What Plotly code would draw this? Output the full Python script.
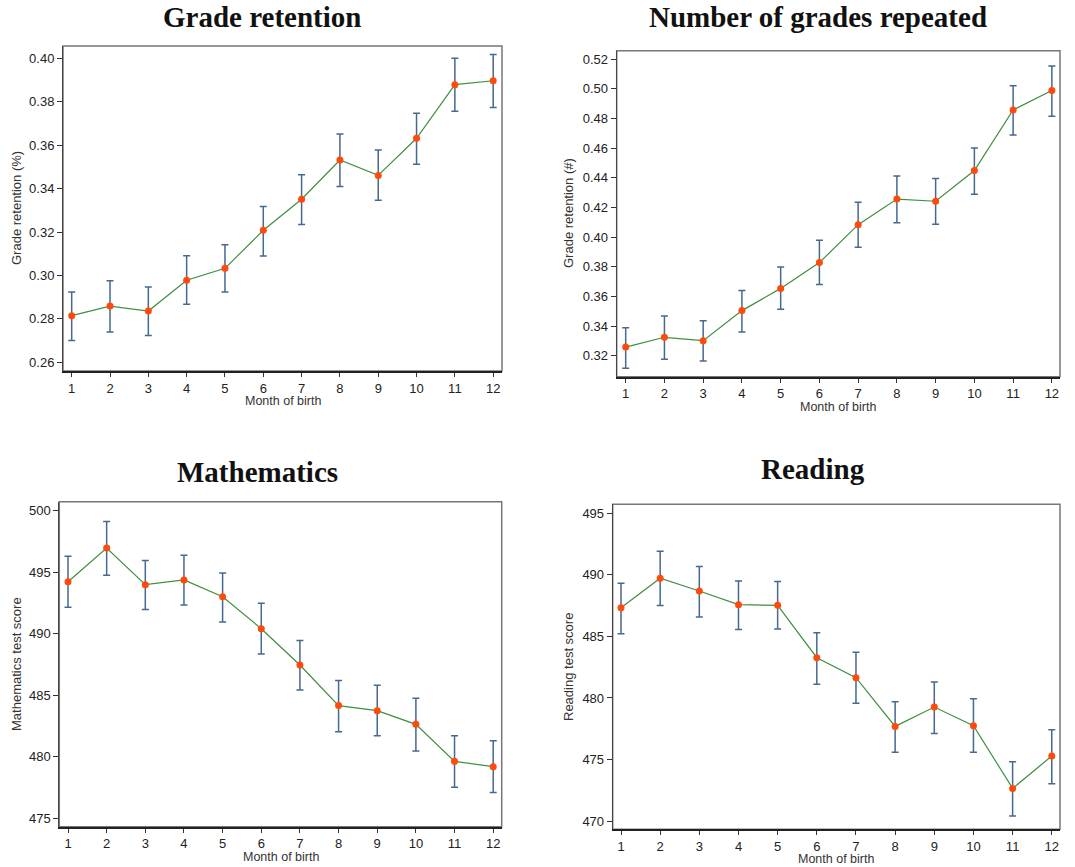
import plotly.graph_objects as go

months = list(range(1, 13))

# Grade retention (%)
ret_mean = [0.2815, 0.2859, 0.2836, 0.2978, 0.3033, 0.3208, 0.3351, 0.3532, 0.3461, 0.3632, 0.3879, 0.3897]
ret_hi   = [0.2924, 0.2976, 0.2947, 0.3091, 0.3142, 0.3318, 0.3464, 0.3652, 0.3578, 0.3747, 0.4000, 0.4018]
ret_lo   = [0.2700, 0.2740, 0.2724, 0.2867, 0.2924, 0.3090, 0.3235, 0.3410, 0.3346, 0.3512, 0.3756, 0.3774]

# Number of grades repeated
rep_mean = [0.3258, 0.3324, 0.3301, 0.3504, 0.3654, 0.3828, 0.4084, 0.4257, 0.4242, 0.4449, 0.4858, 0.4989]
rep_hi   = [0.3389, 0.3468, 0.3436, 0.3639, 0.3798, 0.3978, 0.4235, 0.4413, 0.4395, 0.4602, 0.5022, 0.5155]
rep_lo   = [0.3115, 0.3175, 0.3164, 0.3360, 0.3513, 0.3681, 0.3931, 0.4097, 0.4086, 0.4289, 0.4689, 0.4815]

# Mathematics test score
math_mean = [494.23, 496.97, 493.99, 494.37, 493.01, 490.41, 487.46, 484.16, 483.75, 482.64, 479.63, 479.20]
math_hi   = [496.29, 499.13, 495.96, 496.37, 494.94, 492.47, 489.46, 486.21, 485.81, 484.75, 481.72, 481.31]
math_lo   = [492.15, 494.75, 491.98, 492.33, 490.95, 488.35, 485.43, 482.04, 481.72, 480.47, 477.52, 477.09]

# Reading test score
read_mean = [487.33, 489.72, 488.69, 487.58, 487.52, 483.27, 481.65, 477.69, 479.26, 477.75, 472.65, 475.28]
read_hi   = [489.31, 491.91, 490.67, 489.50, 489.45, 485.30, 483.71, 479.70, 481.29, 479.94, 474.82, 477.42]
read_lo   = [485.22, 487.50, 486.58, 485.55, 485.60, 481.11, 479.56, 475.58, 477.12, 475.58, 470.41, 473.03]

titles = ["Grade retention", "Number of grades repeated", "Mathematics", "Reading"]
ytitles = ["Grade retention (%)", "Grade retention (#)", "Mathematics test score", "Reading test score"]
xtitle = "Month of birth"

W, H = 1075, 867

# panel frames in pixels: (left, right, top, bottom)
frames = [(63, 502, 46, 371), (616.7, 1060, 50.7, 376.7),
          (59.3, 501.7, 501.7, 826.7), (612.7, 1060, 504.3, 829.3)]
xranges = [[0.773, 12.23], [0.768, 12.21], [0.775, 12.22], [0.788, 12.21]]
yranges = [[0.256, 0.4057], [0.3058, 0.5258], [474.32, 500.73], [469.33, 495.73]]
yticks = [[0.26 + 0.02 * i for i in range(8)], [0.32 + 0.02 * i for i in range(11)],
          [475, 480, 485, 490, 495, 500], [470, 475, 480, 485, 490, 495]]
yfmt = [".2f", ".2f", "d", "d"]
title_pos = [(262, 17), (817.7, 17), (257, 472), (813, 469)]
ytitle_pos = [(16, 208), (568, 213), (16, 664), (568, 667)]
xtitle_y = [401, 407, 857, 859]

series = [(ret_mean, ret_lo, ret_hi), (rep_mean, rep_lo, rep_hi),
          (math_mean, math_lo, math_hi), (read_mean, read_lo, read_hi)]

LINE = "#3f8f3f"
MARK = "#ff4a0c"
ERR = "#46698e"

fig = go.Figure()
layout = dict(width=W, height=H, margin=dict(l=0, r=0, t=0, b=0),
              paper_bgcolor="white", plot_bgcolor="white", showlegend=False)
annotations = []
shapes = []

for i, ((m, lo, hi), fr) in enumerate(zip(series, frames)):
    n = "" if i == 0 else str(i + 1)
    up = [h - v for h, v in zip(hi, m)]
    dn = [v - l for v, l in zip(m, lo)]
    fig.add_trace(go.Scatter(
        x=months, y=m, mode="lines+markers", xaxis="x" + n, yaxis="y" + n,
        line=dict(color=LINE, width=1.2),
        marker=dict(color=MARK, size=7),
        error_y=dict(type="data", symmetric=False, array=up, arrayminus=dn,
                     color=ERR, thickness=1.5, width=3.5),
        hoverinfo="skip"))
    l, r, t, b = fr
    layout["xaxis" + n] = dict(
        domain=[l / W, r / W], anchor="y" + n, range=xranges[i],
        tickmode="array", tickvals=months, ticks="outside", ticklen=4,
        tickcolor="#333", tickwidth=1, showgrid=False, zeroline=False,
        showline=True, linecolor="#222", linewidth=2,
        tickfont=dict(family="Liberation Sans", size=13, color="#222"))
    layout["yaxis" + n] = dict(
        domain=[1 - b / H, 1 - t / H], anchor="x" + n, range=yranges[i],
        tickmode="array", tickvals=yticks[i], tickformat=yfmt[i],
        ticks="outside", ticklen=5, tickcolor="#333", tickwidth=1,
        showgrid=False, zeroline=False, showline=True, linecolor="#444",
        linewidth=1,
        tickfont=dict(family="Liberation Sans", size=13, color="#222"))
    shapes.append(dict(type="rect", xref="x" + n + " domain", yref="y" + n + " domain",
                       x0=0, x1=1, y0=0, y1=1, line=dict(color="#777", width=1.5),
                       layer="below"))
    annotations.append(dict(text="<b>" + titles[i] + "</b>", xref="paper", yref="paper",
                            x=title_pos[i][0] / W, y=1 - title_pos[i][1] / H,
                            xanchor="center", yanchor="middle", showarrow=False,
                            font=dict(family="Liberation Serif", size=29, color="#111")))
    annotations.append(dict(text=ytitles[i], xref="paper", yref="paper",
                            x=ytitle_pos[i][0] / W, y=1 - ytitle_pos[i][1] / H,
                            xanchor="center", yanchor="middle", textangle=-90,
                            showarrow=False,
                            font=dict(family="Liberation Sans", size=13, color="#333")))
    annotations.append(dict(text=xtitle, xref="paper", yref="paper",
                            x=(l + r) / 2 / W, y=1 - xtitle_y[i] / H,
                            xanchor="center", yanchor="middle", showarrow=False,
                            font=dict(family="Liberation Sans", size=12.5, color="#333")))

layout["annotations"] = annotations
layout["shapes"] = shapes
fig.update_layout(**layout)
fig.write_html("out.html")
